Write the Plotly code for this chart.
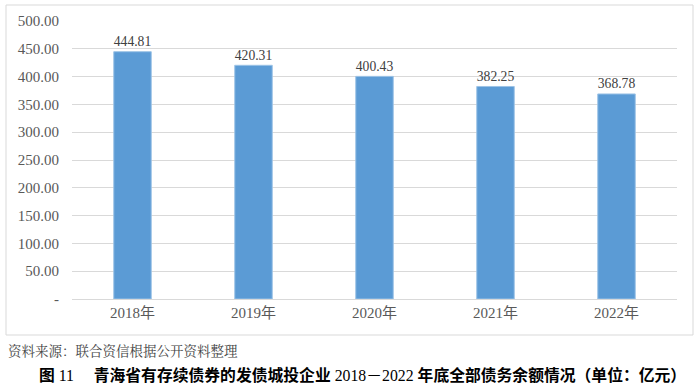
import plotly.graph_objects as go

categories = ["2018年", "2019年", "2020年", "2021年", "2022年"]
values = [444.81, 420.31, 400.43, 382.25, 368.78]
tick_vals = [0, 50, 100, 150, 200, 250, 300, 350, 400, 450, 500]
tick_text = ["-", "50.00", "100.00", "150.00", "200.00", "250.00", "300.00",
             "350.00", "400.00", "450.00", "500.00"]
source_text = "资料来源：联合资信根据公开资料整理"
caption_parts = [("图", True), (" 11　 ", False),
                 ("青海省有存续债券的发债城投企业", True), (" 2018－2022 ", False),
                 ("年底全部债务余额情况（单位：亿元）", True)]

L, R, T, B = 72, 23, 21, 84
W, H = 700, 383
pw, ph = W - L - R, H - T - B

def px(x):
    return (x - L) / pw

def py(y):
    return (H - B - y) / ph

serif = "'Liberation Serif', 'Times New Roman', 'Noto Sans CJK SC', serif"
caption_html = "".join(f"<b>{t}</b>" if b else t for t, b in caption_parts)

fig = go.Figure()
fig.add_trace(go.Bar(
    x=categories, y=values,
    marker=dict(color="#5B9BD5", line=dict(color="#9DC3E6", width=1)),
    width=0.31,
    text=[f"{v:.2f}" for v in values],
    textposition="outside",
    textfont=dict(family=serif, size=15, color="#404040"),
    cliponaxis=False,
))

fig.update_layout(
    width=W, height=H,
    margin=dict(l=L, r=R, t=T, b=B),
    plot_bgcolor="white", paper_bgcolor="white",
    showlegend=False,
    bargap=0.69,
    xaxis=dict(
        tickfont=dict(family=serif, size=15, color="#595959"),
        showline=True, linecolor="#d9d9d9", linewidth=1,
        ticks="", showgrid=False,
    ),
    yaxis=dict(
        range=[0, 500],
        tickvals=tick_vals, ticktext=tick_text,
        tickfont=dict(family=serif, size=15, color="#595959"),
        showgrid=True, gridcolor="#d9d9d9", gridwidth=1,
        zeroline=False, ticks="", showline=False,
        ticklabelstandoff=12,
    ),
    shapes=[dict(
        type="rect", xref="paper", yref="paper",
        x0=px(6), x1=px(693), y0=py(335), y1=py(5),
        line=dict(color="#d9d9d9", width=1), fillcolor="rgba(0,0,0,0)",
        layer="below",
    )],
    annotations=[
        dict(text=source_text, xref="paper", yref="paper",
             x=px(6), y=py(350), xanchor="left", yanchor="middle",
             showarrow=False,
             font=dict(family="'Noto Serif CJK SC', 'Noto Sans CJK SC'", size=13.5, color="#444444")),
        dict(text=caption_html, xref="paper", yref="paper",
             x=px(362), y=py(375), xanchor="center", yanchor="middle",
             showarrow=False,
             font=dict(family="'Liberation Serif', 'Noto Sans CJK SC'", size=15.8, color="#000000")),
    ],
)

fig.write_html("out.html", config={"displayModeBar": False},
               post_script="document.body.style.margin='0';document.body.style.overflow='hidden';")
